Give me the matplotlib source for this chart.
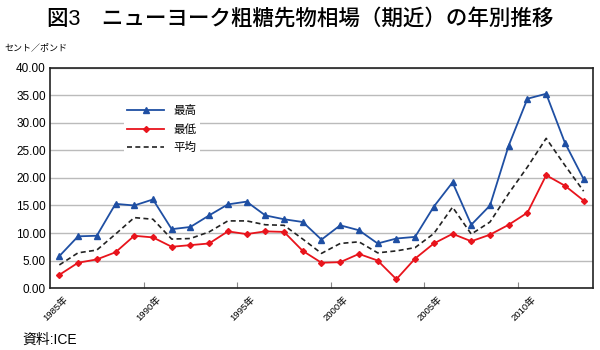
import numpy as np
import matplotlib.pyplot as plt
from matplotlib.ticker import FixedLocator, FuncFormatter

plt.rcParams['font.family'] = ['Liberation Sans', 'Noto Sans CJK JP', 'DejaVu Sans']

# data (cents / pound)
years = list(range(1985, 2014))
high = [5.8, 9.4, 9.5, 15.3, 15.0, 16.1, 10.7, 11.1, 13.2, 15.2, 15.7, 13.2, 12.5, 12.0,
        8.8, 11.4, 10.5, 8.1, 9.0, 9.3, 14.8, 19.2, 11.5, 15.0, 25.9, 34.4, 35.3, 26.4, 19.8]
low = [2.4, 4.6, 5.2, 6.5, 9.5, 9.2, 7.5, 7.8, 8.1, 10.3, 9.8, 10.3, 10.2, 6.75,
       4.6, 4.7, 6.2, 5.0, 1.6, 5.35, 8.1, 9.85, 8.5, 9.7, 11.5, 13.7, 20.5, 18.6, 15.9]
avg = [4.2, 6.4, 6.9, 9.8, 12.8, 12.5, 8.9, 9.0, 10.2, 12.2, 12.2, 11.5, 11.4, 8.9,
       6.3, 8.1, 8.4, 6.4, 6.75, 7.35, 9.9, 14.7, 9.8, 12.0, 17.2, 22.0, 27.2, 22.3, 17.6]
label_years = [1985, 1990, 1995, 2000, 2005, 2010]

x = np.arange(len(years))

fig = plt.figure(figsize=(6, 3.5), dpi=100)
ax = fig.add_axes([0.0833, 0.177, 0.905, 0.629])

ax.plot(x, high, color='#1f4fa3', lw=1.3, marker='^', ms=5, label='最高')
ax.plot(x, low, color='#e8141c', lw=1.3, marker='D', ms=3, label='最低')
ax.plot(x, avg, color='#222222', lw=1.2, ls=(0, (3, 2)), label='平均')

ax.set_xlim(-0.5, len(years) - 0.5)
ax.set_ylim(0, 40)
ax.set_yticks(np.arange(0, 41, 5))
ax.yaxis.set_major_formatter(FuncFormatter(lambda v, p: '%.2f' % v))
ax.tick_params(axis='y', length=0, labelsize=8.5, pad=3)
ax.yaxis.grid(True, color='#bbbbbb', lw=1)
ax.set_axisbelow(True)

# category boundaries as ticks, labels at category centres
pos = [years.index(y) for y in label_years]
ax.xaxis.set_major_locator(FixedLocator([p - 0.5 for p in pos[1:]]))
ax.set_xticklabels([])
ax.tick_params(axis='x', direction='in', length=4, color='#888888')
for p, y in zip(pos, label_years):
    ax.text(p + 0.2, -1.2, '%d年' % y, rotation=45, ha='right', va='top',
            fontsize=6.8, rotation_mode='anchor')

for s in ax.spines.values():
    s.set_color('#222222')
    s.set_linewidth(1.2)

leg = ax.legend(loc='upper left', bbox_to_anchor=(0.125, 0.875), frameon=True,
                fontsize=8.3, handlelength=3.2, handletextpad=0.8,
                labelspacing=0.6, borderpad=0.3)
leg.get_frame().set_edgecolor('none')
leg.get_frame().set_facecolor('white')
leg.get_frame().set_alpha(1)

fig.text(0.5, 0.945, '図3　ニューヨーク粗糖先物相場（期近）の年別推移',
         ha='center', va='center', fontsize=15.5, fontweight='medium')
fig.text(0.008, 0.865, 'セント／ポンド', fontsize=6.5, va='center')
fig.text(0.037, 0.028, '資料:ICE', fontsize=10, va='center')

fig.savefig('out.png', dpi=100)
